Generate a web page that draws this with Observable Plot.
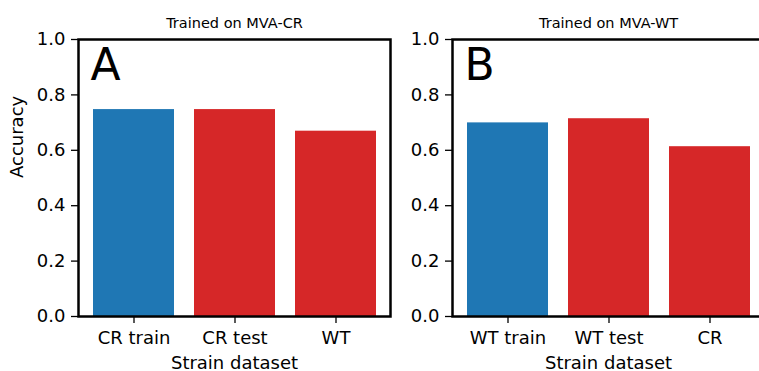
<!DOCTYPE html>
<html>
<head>
<meta charset="utf-8">
<script src="https://cdn.jsdelivr.net/npm/d3@7"></script>
<script src="https://cdn.jsdelivr.net/npm/@observablehq/plot@0.6"></script>
<style>
  html, body { margin: 0; padding: 0; background: white; }
  #fig { position: relative; width: 759px; height: 371px; overflow: hidden; background: white; }
  #fig > div { position: absolute; top: 0; width: 400px; height: 371px; }
  #fig svg { max-width: none !important; width: 400px; height: 371px; font-family: "DejaVu Sans", sans-serif; }
</style>
</head>
<body>
<div id="fig">
  <div id="panelA" style="left:0px"></div>
  <div id="panelB" style="left:374px"></div>
</div>
<script>
// Accuracy of the strain classifier, per evaluation dataset
const titlesAB = ["Trained on MVA-CR", "Trained on MVA-WT"];
const panelLetters = ["A", "B"];
const categoriesA = ["CR train", "CR test", "WT"];
const categoriesB = ["WT train", "WT test", "CR"];
const accuracyA = [0.747, 0.747, 0.669];
const accuracyB = [0.699, 0.714, 0.613];
const roles = ["train", "held-out", "held-out"];
const yTicks = [0, 0.2, 0.4, 0.6, 0.8, 1.0];
const xLabel = "Strain dataset";
const yLabel = "Accuracy";

function panel(categories, values, title, letter, showYLabel) {
  const rows = categories.map((c, i) => ({category: c, accuracy: values[i], role: roles[i]}));
  const marks = [
    Plot.barY(rows, {x: "category", y: "accuracy", fill: "role"}),
    Plot.axisY({ticks: yTicks, tickFormat: ".1f", tickSize: 7, tickPadding: 6, fontSize: 18, strokeWidth: 1.3, label: null}),
    Plot.axisX({tickSize: 7, tickPadding: 8, fontSize: 18, strokeWidth: 1.3, label: null}),
    Plot.frame({stroke: "black", strokeWidth: 2.5}),
    Plot.text([title], {frameAnchor: "top", dy: -12, lineAnchor: "bottom", fontSize: 14.5, fill: "black"}),
    Plot.text([letter], {frameAnchor: "top-left", dx: 12, dy: 40, lineAnchor: "bottom", textAnchor: "start", fontSize: 44, fill: "black"}),
    Plot.text([xLabel], {frameAnchor: "bottom", dy: 52, lineAnchor: "bottom", fontSize: 18, fill: "black"})
  ];
  if (showYLabel) {
    marks.push(Plot.text([yLabel], {frameAnchor: "left", dx: -61, rotate: -90, lineAnchor: "middle", fontSize: 18, fill: "black"}));
  }
  return Plot.plot({
    width: 400,
    height: 371,
    marginLeft: 78,
    marginRight: 10,
    marginTop: 39,
    marginBottom: 55,
    style: {background: "transparent", color: "black", fontFamily: "DejaVu Sans, sans-serif"},
    x: {domain: categories, paddingInner: 0.2, paddingOuter: 0.13, align: 0.5},
    y: {domain: [0, 1]},
    color: {domain: ["train", "held-out"], range: ["#1f77b4", "#d62728"]},
    marks
  });
}

document.getElementById("panelA").appendChild(panel(categoriesA, accuracyA, titlesAB[0], panelLetters[0], true));
document.getElementById("panelB").appendChild(panel(categoriesB, accuracyB, titlesAB[1], panelLetters[1], false));
</script>
</body>
</html>
